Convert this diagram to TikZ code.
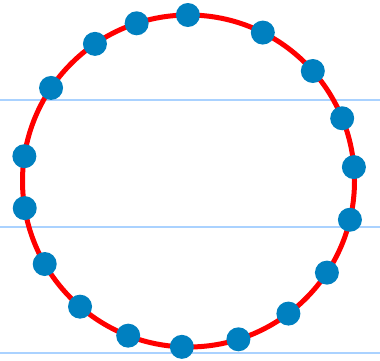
\documentclass[tikz,border=0pt]{standalone}
\usetikzlibrary{calc}
\definecolor{ringred}{RGB}{255,0,0}
\definecolor{dotblue}{RGB}{0,128,192}
\definecolor{ruleblue}{RGB}{170,210,255}

\begin{document}
\begin{tikzpicture}[x=1pt,y=1pt,
  rule/.style={draw=ruleblue,line width=2pt},
  ring/.style={draw=ringred,line width=5pt},
  bead/.style={circle,fill=dotblue,minimum size=24pt,inner sep=0pt}]
  \useasboundingbox (0,0) rectangle (380,360);
  % horizontal rules behind the ring
  \foreach \y in {260,133.3,6.7}
    \draw[rule] (0,\y)--(380,\y);
  \coordinate (centre) at (188.5,179);
  \draw[ring] (centre) circle[radius=166];
  % beads placed by angle
  \foreach \a [count=\i] in {90.2,63.4,41.5,22.2,4.8,-13.5,-33.5,-53,-72.5,
      -92.3,-111.3,-130.8,-150,-170.6,171.4,145.9,124.3,108.2}
    \node[bead] (bead\i) at ($(centre)+(\a:166)$) {};
\end{tikzpicture}
\end{document}
